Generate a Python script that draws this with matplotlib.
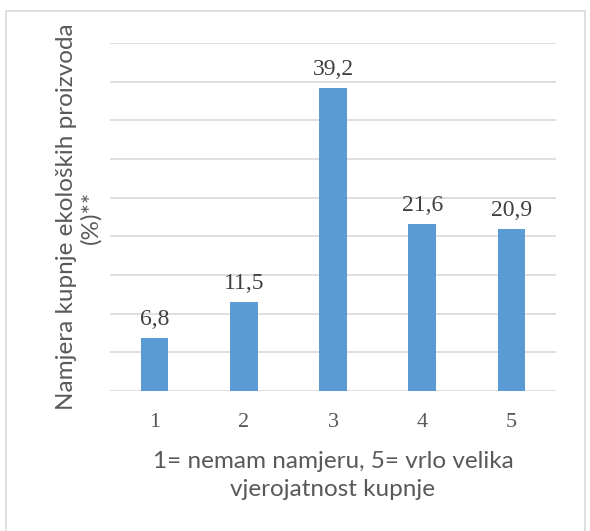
import matplotlib
matplotlib.use("Agg")
import matplotlib.pyplot as plt
from matplotlib.patches import Rectangle

categories = ["1", "2", "3", "4", "5"]
values = [6.8, 11.5, 39.2, 21.6, 20.9]
value_labels = ["6,8", "11,5", "39,2", "21,6", "20,9"]

fig = plt.figure(figsize=(5.9, 5.31), dpi=100)
fig.patch.set_facecolor("white")
W, H = 590, 531
ax = fig.add_axes([110 / W, 1 - 391 / H, 446 / W, (391 - 43) / H])

x = list(range(len(categories)))
ax.bar(x, values, width=0.31, color="#5B9BD5", zorder=3)
ax.set_xlim(-0.5, 4.5)
ax.set_ylim(0, 45)
ax.set_yticks(range(0, 46, 5))
ax.yaxis.grid(True, color="#D9D9D9", linewidth=1.2, zorder=0)
ax.tick_params(axis="y", left=False, labelleft=False)
ax.tick_params(axis="x", bottom=False, pad=12)
ax.set_xticks(x)
ax.set_xticklabels(categories, fontfamily="Liberation Serif", fontsize=16, color="#595959")
for s in ax.spines.values():
    s.set_visible(False)

for xi, v, lab in zip(x, values, value_labels):
    ax.annotate(lab, (xi, v), xytext=(0, 6), textcoords="offset points",
                ha="center", va="bottom", fontfamily="Liberation Serif",
                fontsize=17, color="#404040")

ax.set_xlabel("1= nemam namjeru, 5= vrlo velika\nvjerojatnost kupnje",
              fontfamily="Lato", fontsize=17.5, color="#595959",
              labelpad=14, linespacing=1.4)
ax.set_ylabel("Namjera kupnje ekoloških proizvoda\n(%)**",
              fontfamily="Lato", fontsize=17.5, color="#595959",
              labelpad=6, linespacing=1.2)

fig.add_artist(Rectangle((6 / W, -0.1), (585 - 6) / W, 1.1 - 11 / H,
                         transform=fig.transFigure, fill=False,
                         edgecolor="#D9D9D9", linewidth=1.2))

fig.savefig("out.png", dpi=100)
